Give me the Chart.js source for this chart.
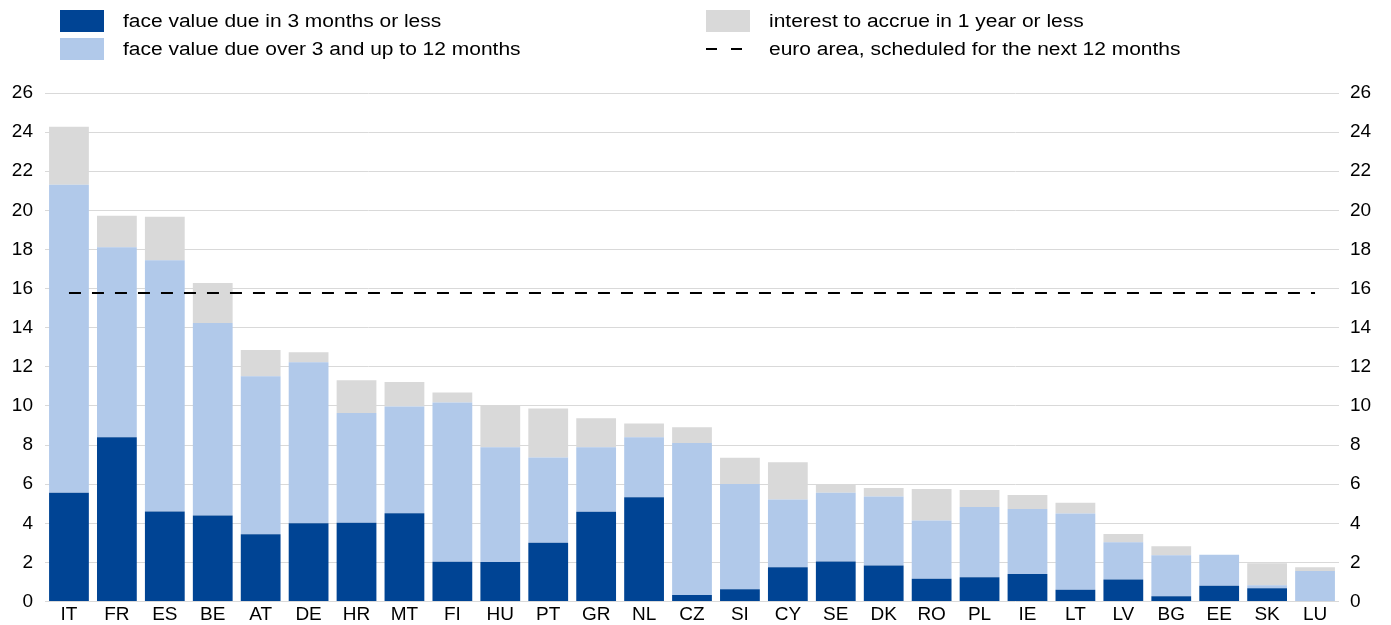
<!DOCTYPE html>
<html>
<head>
<meta charset="utf-8">
<script src="https://cdn.jsdelivr.net/npm/chart.js@4/dist/chart.umd.min.js"></script>
<style>
    body { margin: 0; background: #fff; font-family: "Liberation Sans", Arial, sans-serif; }
    #wrap { position: relative; width: 1391px; height: 625px; overflow: hidden; }
    #chart { position: absolute; left: 0; top: 0; }
    .sw { position: absolute; width: 44px; height: 22px; }
    .txt { position: absolute; font-size: 18px; line-height: 22px; color: #000; white-space: nowrap;
           transform: scaleX(1.165); transform-origin: 0 50%; }
    .dash { position: absolute; width: 11px; height: 2px; background: #000; }
</style>
</head>
<body>
<div id="wrap">
    <canvas id="chart" width="1391" height="625"></canvas>

    <!-- legend -->
    <div class="sw" style="left:60px;top:10px;background:#004494"></div>
    <div class="txt" style="left:123px;top:10px">face value due in 3 months or less</div>
    <div class="sw" style="left:60px;top:38px;background:#b1c9ea"></div>
    <div class="txt" style="left:123px;top:38px">face value due over 3 and up to 12 months</div>
    <div class="sw" style="left:706px;top:10px;background:#d9d9d9"></div>
    <div class="txt" style="left:769px;top:10px">interest to accrue in 1 year or less</div>
    <div class="dash" style="left:706px;top:48px"></div>
    <div class="dash" style="left:731px;top:48px"></div>
    <div class="txt" style="left:769px;top:38px">euro area, scheduled for the next 12 months</div>
</div>

<script>
// countries
const countries = ["IT", "FR", "ES", "BE", "AT", "DE", "HR", "MT", "FI", "HU", "PT", "GR", "NL", "CZ",
    "SI", "CY", "SE", "DK", "RO", "PL", "IE", "LT", "LV", "BG", "EE", "SK", "LU"];

// face value due in 3 months or less
const dueShort = [5.56, 8.40, 4.61, 4.40, 3.44, 4.00, 4.03, 4.52, 2.04, 2.03, 3.01, 4.59, 5.34, 0.34,
    0.63, 1.76, 2.05, 1.85, 1.17, 1.25, 1.41, 0.61, 1.13, 0.27, 0.81, 0.68, 0.00];

// face value due over 3 and up to 12 months
const dueLong = [15.75, 9.72, 12.84, 9.84, 8.08, 8.23, 5.61, 5.46, 8.14, 5.86, 4.36, 3.30, 3.06, 7.77,
    5.38, 3.46, 3.52, 3.52, 2.98, 3.59, 3.33, 3.90, 1.90, 2.10, 1.58, 0.15, 1.56];

// interest to accrue in 1 year or less
const interest = [2.96, 1.61, 2.23, 2.05, 1.34, 0.52, 1.67, 1.25, 0.51, 2.12, 2.50, 1.48, 0.71, 0.80,
    1.34, 1.91, 0.44, 0.44, 1.61, 0.87, 0.71, 0.54, 0.43, 0.46, 0.00, 1.13, 0.20];

// euro area, scheduled for the next 12 months
const euroArea = 15.77;

const yTicks = { min: 0, max: 26, step: 2 };

const tickFont = { family: "'Liberation Sans', Arial, sans-serif", size: 19 };

new Chart(document.getElementById("chart"), {
    type: "bar",
    data: {
        labels: countries,
        datasets: [
            {
                type: "line",
                label: "euro area, scheduled for the next 12 months",
                data: countries.map(() => euroArea),
                borderColor: "#000",
                borderWidth: 2,
                borderDash: [12, 11],
                pointRadius: 0,
                fill: false,
                stack: "line",
                order: 0,
            },
            {
                label: "face value due in 3 months or less",
                data: dueShort,
                backgroundColor: "#004494",
                stack: "s",
                order: 1,
            },
            {
                label: "face value due over 3 and up to 12 months",
                data: dueLong,
                backgroundColor: "#b1c9ea",
                stack: "s",
                order: 1,
            },
            {
                label: "interest to accrue in 1 year or less",
                data: interest,
                backgroundColor: "#d9d9d9",
                stack: "s",
                order: 1,
            },
        ],
    },
    options: {
        responsive: false,
        animation: false,
        devicePixelRatio: 1,
        layout: { padding: { top: 93, left: 0, right: 0, bottom: 0 } },
        datasets: {
            bar: { barPercentage: 0.83, categoryPercentage: 1.0, borderWidth: 0 },
        },
        plugins: {
            legend: { display: false },
            tooltip: { enabled: false },
        },
        scales: {
            x: {
                stacked: true,
                grid: { display: false, drawTicks: false },
                border: { display: false },
                ticks: { color: "#000", font: tickFont, padding: 2, maxRotation: 0, autoSkip: false },
                afterFit: (s) => { s.height = 20; },
            },
            y: {
                stacked: true,
                position: "left",
                min: yTicks.min,
                max: yTicks.max,
                grid: { color: "#d9d9d9", lineWidth: 1, drawTicks: false },
                border: { display: false },
                ticks: { stepSize: yTicks.step, color: "#000", font: tickFont, padding: 12 },
                afterFit: (s) => { s.width = 45; },
            },
            y2: {
                position: "right",
                min: yTicks.min,
                max: yTicks.max,
                grid: { display: false, drawTicks: false },
                border: { display: false },
                ticks: { stepSize: yTicks.step, color: "#000", font: tickFont, padding: 11 },
                afterFit: (s) => { s.width = 52; },
            },
        },
    },
});
</script>
</body>
</html>
